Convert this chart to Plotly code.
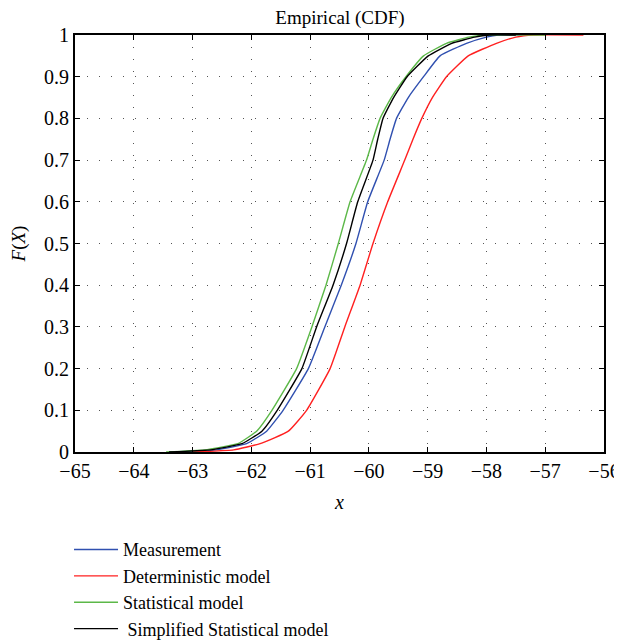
import plotly.graph_objects as go

# Empirical CDF levels and read-off quantiles (x values) per series
F_levels = [0, 0.005, 0.02, 0.05, 0.1, 0.2, 0.3, 0.4, 0.5, 0.6, 0.7, 0.75, 0.8, 0.85,
            0.9, 0.95, 0.98, 0.995, 1.0, 1.0]

measurement_x = [-63.4, -62.6, -62.08, -61.74, -61.46, -61.03, -60.75, -60.47, -60.22, -60.02,
                 -59.74, -59.64, -59.53, -59.33, -59.07, -58.79, -58.34, -58.0, -57.8, -57.3]
deterministic_x = [-63.0, -62.3, -61.85, -61.37, -61.06, -60.66, -60.41, -60.15, -59.93, -59.68,
                   -59.39, -59.25, -59.1, -58.92, -58.68, -58.31, -57.83, -57.5, -57.2, -56.35]
statistical_x = [-63.45, -62.8, -62.23, -61.91, -61.65, -61.23, -60.97, -60.73, -60.52, -60.32,
                 -60.04, -59.93, -59.81, -59.62, -59.37, -59.07, -58.68, -58.3, -58.0, -57.0]
simplified_x = [-63.4, -62.7, -62.16, -61.82, -61.56, -61.14, -60.89, -60.61, -60.38, -60.19,
                -59.93, -59.85, -59.76, -59.58, -59.35, -58.99, -58.59, -58.2, -57.95, -57.5]

series = [
    ("Measurement", measurement_x, "#3050b0"),
    ("Deterministic model", deterministic_x, "#ff2020"),
    ("Statistical model", statistical_x, "#5cb848"),
    (" Simplified Statistical model", simplified_x, "#000000"),
]

x_ticks = list(range(-65, -55))
y_ticks = [round(0.1 * i, 1) for i in range(11)]
y_tick_text = ["0", "0.1", "0.2", "0.3", "0.4", "0.5", "0.6", "0.7", "0.8", "0.9", "1"]

FONT = "Liberation Serif"

fig = go.Figure()
for name, xs, color in series:
    fig.add_trace(go.Scatter(x=xs, y=F_levels, mode="lines", name=name,
                             line=dict(color=color, width=1.4, shape="spline", smoothing=0.4)))

axis_common = dict(
    showline=True, linecolor="black", linewidth=2, mirror="allticks",
    ticks="inside", ticklen=5, tickcolor="black", tickwidth=1,
    showgrid=True, gridcolor="#555555", gridwidth=1, griddash="1px,11px",
    zeroline=False, automargin=False, ticklabeloverflow="allow",
    tickfont=dict(family=FONT, size=20, color="black"),
)

fig.update_xaxes(range=[-65, -56], tickvals=x_ticks,
                 title=dict(text="<i>x</i>", font=dict(family=FONT, size=20, color="black"),
                            standoff=14),
                 **axis_common)
fig.update_yaxes(range=[0, 1], tickvals=y_ticks, ticktext=y_tick_text,
                 title=dict(text="<i>F</i>(<i>X</i>)", font=dict(family=FONT, size=19, color="black"),
                            standoff=18),
                 **axis_common)

fig.update_layout(
    width=630, height=636,
    margin=dict(l=67, r=34, t=27, b=192, autoexpand=False),
    paper_bgcolor="white", plot_bgcolor="white",
    title=dict(text="Empirical (CDF)", x=0.527, xanchor="center", y=0.985, yanchor="middle",
               font=dict(family=FONT, size=19, color="black")),
    showlegend=True,
    legend=dict(x=-0.0113, xanchor="left", y=-0.19, yanchor="top",
                font=dict(family=FONT, size=18, color="black"),
                bgcolor="rgba(0,0,0,0)", itemwidth=44, tracegroupgap=0),
)

fig.write_html("out.html")
